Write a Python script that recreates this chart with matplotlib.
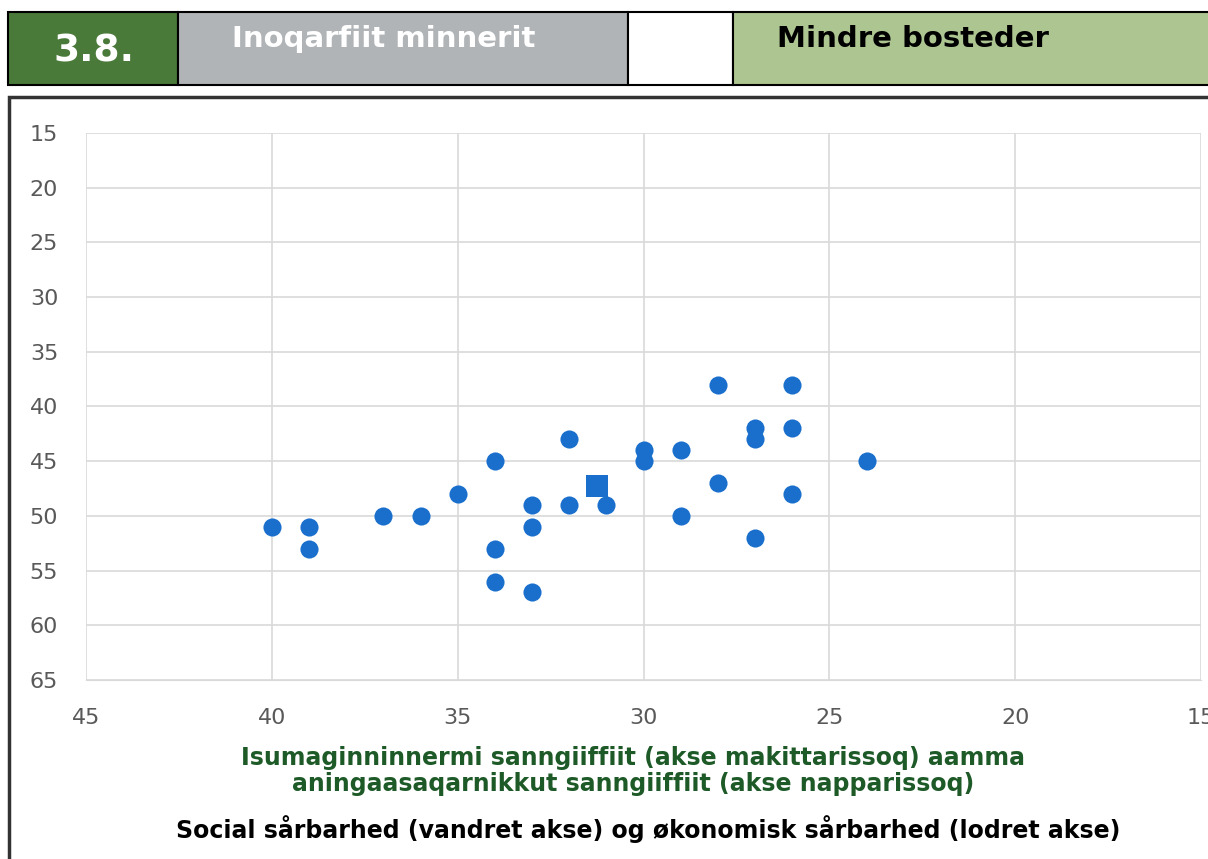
import matplotlib.pyplot as plt
from matplotlib.patches import Rectangle

# Scatter data: social vulnerability (x) vs economic vulnerability (y)
social = [40, 39, 39, 37, 36, 35, 34, 34, 34, 33, 33, 33, 32, 32, 31,
          30, 30, 29, 29, 28, 28, 27, 27, 27, 26, 26, 26, 24]
economic = [51, 51, 53, 50, 50, 48, 45, 53, 56, 49, 51, 57, 43, 49, 49,
            44, 45, 44, 50, 38, 47, 42, 43, 52, 38, 42, 48, 45]
# Average marker
avg_social = [31.25]
avg_economic = [47.3]

x_ticks = [45, 40, 35, 30, 25, 20, 15]
y_ticks = [15, 20, 25, 30, 35, 40, 45, 50, 55, 60, 65]

W, H = 1208, 859
BLUE = "#1a6fcc"

fig = plt.figure(figsize=(W / 100, H / 100), dpi=100)


def fx(px):
    return px / W


def fy(py):
    return 1 - py / H


# header row
header = [
    (8, 178, "#4a7a3a"),
    (178, 628, "#b1b4b6"),
    (628, 733, "white"),
    (733, 1210, "#adc590"),
]
for x0, x1, fc in header:
    fig.patches.append(Rectangle((fx(x0), fy(85)), fx(x1 - x0), fy(12) - fy(85),
                                 transform=fig.transFigure, facecolor=fc,
                                 edgecolor="black", linewidth=1.5, zorder=-2))
fig.text(fx(94), fy(52), "3.8.", color="white", fontsize=27, fontweight="bold",
         ha="center", va="center")
fig.text(fx(384), fy(39), "Inoqarfiit minnerit", color="white", fontsize=21,
         fontweight="bold", ha="center", va="center")
fig.text(fx(913), fy(39), "Mindre bosteder", color="black", fontsize=21,
         fontweight="bold", ha="center", va="center")

# chart frame
fig.patches.append(Rectangle((fx(9), fy(862)), fx(1210), fy(97) - fy(862),
                             transform=fig.transFigure, facecolor="none",
                             edgecolor="#333333", linewidth=2.5, zorder=-1))

ax = fig.add_axes([fx(86), fy(680), fx(1201 - 86), fy(133) - fy(680)])
ax.scatter(social, economic, s=170, color=BLUE, marker="o", zorder=3,
           linewidths=0)
ax.scatter(avg_social, avg_economic, s=240, color=BLUE, marker="s", zorder=3,
           linewidths=0)

ax.set_xlim(45, 15)
ax.set_ylim(65, 15)
ax.set_xticks(x_ticks)
ax.set_yticks(y_ticks)
ax.grid(True, color="#d9d9d9", linewidth=1.2)
ax.set_axisbelow(True)
for side in ["top", "right", "left"]:
    ax.spines[side].set_visible(False)
ax.spines["bottom"].set_color("#d9d9d9")
ax.tick_params(length=0, labelsize=16, labelcolor="#595959")
ax.tick_params(axis="x", pad=20)
ax.tick_params(axis="y", pad=20)
ax.set_facecolor("white")
ax.patch.set_alpha(0)

fig.text(fx(633), fy(771), "Isumaginninnermi sanngiiffiit (akse makittarissoq) aamma\n"
         "aningaasaqarnikkut sanngiiffiit (akse napparissoq)",
         color="#1d5a27", fontsize=17, fontweight="bold", ha="center",
         va="center", linespacing=1.1)
fig.text(fx(648), fy(829), "Social sårbarhed (vandret akse) og økonomisk sårbarhed (lodret akse)",
         color="black", fontsize=17, fontweight="bold", ha="center", va="center")

fig.savefig("out.png", dpi=100)
